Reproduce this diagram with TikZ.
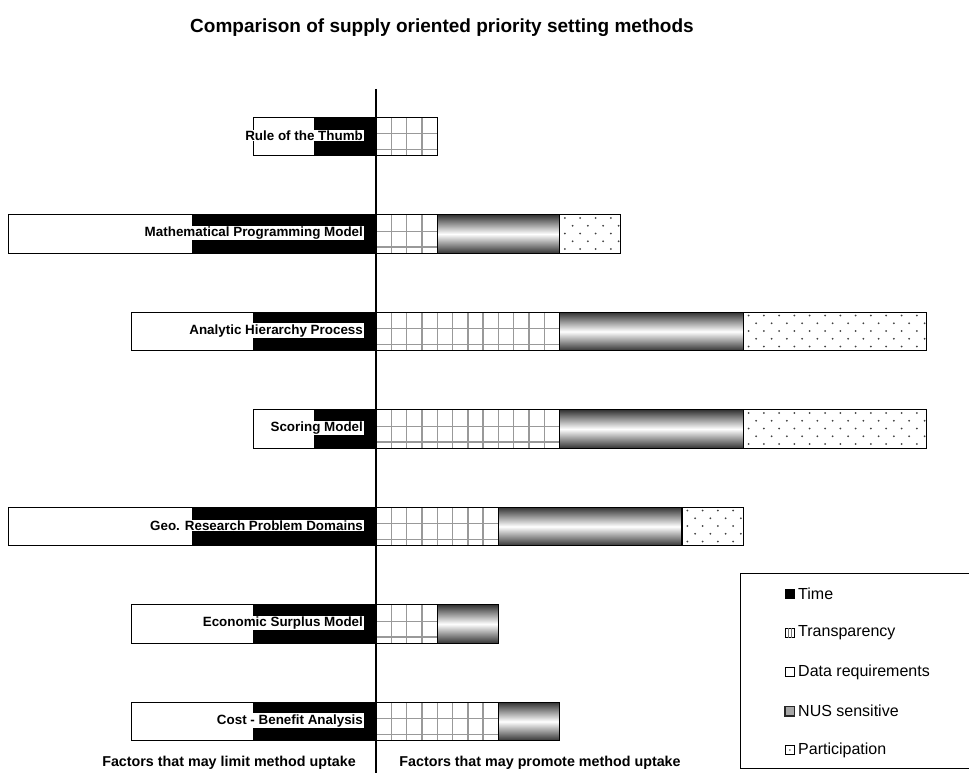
\documentclass[tikz,border=0pt]{standalone}
\usepackage{fontspec}
\setmainfont{Liberation Sans}
\usetikzlibrary{positioning}

\tikzset{
  databar/.style={draw=black,fill=white,line width=1.2pt},
  timebar/.style={draw=black,fill=black,line width=1.2pt},
  gridline/.style={draw=black!40,line width=1.4pt},
  nusbar/.style={draw=black,line width=1.2pt,top color=black!80,bottom color=black!80,middle color=white},
  dotcolor/.style={fill=black!75},
  methodlabel/.style={fill=white,inner sep=0.9pt,anchor=east,font=\bfseries\fontsize{13.4}{13.4}\selectfont},
  factorlabel/.style={inner sep=0pt,font=\bfseries\fontsize{14.3}{14.3}\selectfont},
  charttitle/.style={inner sep=0pt,font=\bfseries\fontsize{19}{19}\selectfont},
  legendtext/.style={anchor=west,inner sep=1pt,font=\fontsize{16}{16}\selectfont},
  keybox/.style={draw=black,line width=0.8pt,minimum size=9.5pt,inner sep=0pt}
}

\begin{document}
\begin{tikzpicture}[x=1pt,y=-1pt]
\useasboundingbox (0,0) rectangle (969,773);
\fill[white] (0,0) rectangle (969,773);

\node[charttitle] (title) at (442,28) {Comparison of supply oriented priority setting methods};

% name/row/time/data/transparency/nus/participation
\foreach \name/\row/\tm/\dr/\tr/\ns/\pa in {
  Rule of the Thumb/0/1/1/1/0/0,
  Mathematical Programming Model/1/3/3/1/2/1,
  Analytic Hierarchy Process/2/2/2/3/3/3,
  Scoring Model/3/1/1/3/3/3,
  Geo. Research Problem Domains/4/3/3/2/3/1,
  Economic Surplus Model/5/2/2/1/1/0,
  Cost - Benefit Analysis/6/2/2/2/1/0}
{
  \pgfmathsetmacro{\yt}{117.2+97.5*\row}
  \pgfmathsetmacro{\yb}{\yt+38.6}
  % limiting side
  \draw[databar] ({376-61.2*(\tm+\dr)},\yt) rectangle (376,\yb);
  \draw[timebar] ({376-61.2*\tm},\yt) rectangle (376,\yb);
  % transparency
  \pgfmathsetmacro{\xg}{376+61.2*\tr}
  \pgfmathtruncatemacro{\nv}{4*\tr-1}
  \fill[white] (376,\yt) rectangle (\xg,\yb);
  \foreach \k in {1,...,\nv} \draw[gridline] ({376+15.3*\k},\yt) -- ++(0,38.6);
  \draw[gridline] (376,\yt+16.5) -- (\xg,\yt+16.5);
  \draw[gridline] (376,\yt+32.2) -- (\xg,\yt+32.2);
  \draw[black,line width=1.2pt] (376,\yt) rectangle (\xg,\yb);
  % nus sensitive
  \pgfmathsetmacro{\xn}{\xg+61.2*\ns}
  \ifnum\ns>0
    \draw[nusbar] (\xg,\yt) rectangle (\xn,\yb);
  \fi
  % participation
  \ifnum\pa>0
    \pgfmathsetmacro{\xp}{\xn+61.2*\pa}
    \pgfmathtruncatemacro{\nd}{4*\pa-1}
    \draw[databar] (\xn,\yt) rectangle (\xp,\yb);
    \foreach \j in {0,...,4}
      \foreach \k in {0,...,\nd} {
        \pgfmathsetmacro{\dx}{\xn+5.3+7.7*mod(\j,2)+15.3*\k}
        \fill[dotcolor] (\dx,{\yt+3.3+7.75*\j}) circle[radius=1pt];
      }
  \fi
  \node[methodlabel] (m\row) at (364,\yt+18.4) {\name};
}

% axis
\coordinate (axistop) at (376,89);
\coordinate (axisbot) at (376,773);
\draw[line width=1.5pt] (axistop) -- (axisbot);

\node[factorlabel] (limit) at (229,763) {Factors that may limit method uptake};
\node[factorlabel] (promote) at (540,763) {Factors that may promote method uptake};

% legend
\draw[line width=1pt] (969,573) -- (740,573) -- (740,768) -- (969,768);
\node[legendtext] (ltime) at (797,594) {Time};
\node[legendtext] (ltransp) at (797,633) {Transparency};
\node[legendtext] (ldata) at (797,672) {Data requirements};
\node[legendtext] (lnus) at (797,711) {NUS sensitive};
\node[legendtext] (lpart) at (797,750) {Participation};

\node[keybox,fill=black,left=2pt of ltime] (ktime) {};
\node[keybox,fill=white,left=2pt of ltransp] (ktransp) {};
\draw[black!55,line width=0.8pt] ([xshift=-1.5pt]ktransp.north) -- ([xshift=-1.5pt]ktransp.south);
\draw[black!55,line width=0.8pt] ([xshift=1.5pt]ktransp.north) -- ([xshift=1.5pt]ktransp.south);
\node[keybox,fill=white,left=2pt of ldata] (kdata) {};
\node[keybox,fill=black!35,draw=black!85,line width=1.5pt,left=2pt of lnus] (knus) {};
\node[keybox,fill=white,left=2pt of lpart] (kpart) {};
\fill[black] (kpart.center) circle[radius=0.7pt];
\end{tikzpicture}
\end{document}
